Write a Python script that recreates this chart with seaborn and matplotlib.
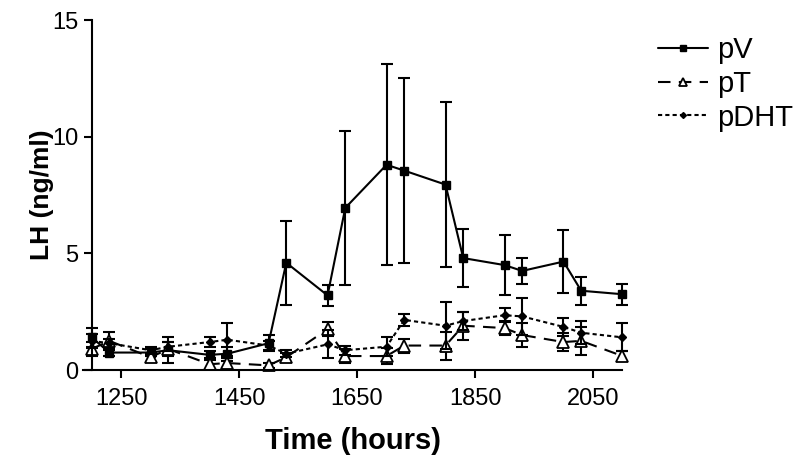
import matplotlib
matplotlib.use("Agg")
import matplotlib.pyplot as plt
import seaborn as sns

# --- Data ---
times = [1200, 1230, 1300, 1330, 1400, 1430, 1500, 1530, 1600, 1630,
         1700, 1730, 1800, 1830, 1900, 1930, 2000, 2030, 2100]

pv = [1.4, 0.75, 0.75, 0.85, 0.65, 0.7, 1.15, 4.6, 3.2, 6.95,
      8.8, 8.55, 7.95, 4.8, 4.5, 4.25, 4.65, 3.4, 3.25]
pv_err = [0.4, 0.15, 0.15, 0.55, 0.15, 0.3, 0.35, 1.8, 0.45, 3.3,
          4.3, 3.95, 3.55, 1.25, 1.3, 0.55, 1.35, 0.6, 0.45]

pt = [0.9, 1.25, 0.55, 0.9, 0.25, 0.3, 0.2, 0.55, 1.75, 0.6,
      0.6, 1.05, 1.05, 1.9, 1.8, 1.5, 1.2, 1.25, 0.6]
pt_err = [0.3, 0.4, 0.2, 0.3, 0.2, 0.2, 0.1, 0.2, 0.3, 0.3,
          0.35, 0.3, 0.6, 0.6, 0.3, 0.5, 0.4, 0.6, 0.2]

pdht = [1.25, 1.15, 0.85, 1.0, 1.2, 1.3, 1.05, 0.7, 1.1, 0.85,
        1.0, 2.15, 1.9, 2.1, 2.35, 2.3, 1.85, 1.6, 1.4]
pdht_err = [0.3, 0.2, 0.15, 0.2, 0.2, 0.7, 0.2, 0.15, 0.6, 0.2,
            0.4, 0.25, 1.0, 0.4, 0.3, 0.8, 0.4, 0.5, 0.6]

x_ticks = [1250, 1450, 1650, 1850, 2050]
y_ticks = [0, 5, 10, 15]

sns.set_theme(style="ticks")
plt.rcParams["font.family"] = ["Liberation Sans", "DejaVu Sans"]
plt.rcParams["text.color"] = "black"
plt.rcParams["axes.labelcolor"] = "black"

fig = plt.figure(figsize=(7.96, 4.69), dpi=100)
ax = fig.add_axes([0.104, 0.211, 0.678, 0.746])

series = [
    ("pV", pv, pv_err, dict(marker="s", markersize=6, linestyle="-")),
    ("pT", pt, pt_err, dict(marker="^", markersize=8, markerfacecolor="white",
                            markeredgewidth=1.3, linestyle=(0, (6, 4)))),
    ("pDHT", pdht, pdht_err, dict(marker="D", markersize=4,
                                  linestyle=(0, (2, 1.5)))),
]

for name, vals, errs, style in series:
    # error bars first, then the line + markers on top
    ax.errorbar(times, vals, yerr=errs, fmt="none", ecolor="black",
                elinewidth=1.5, capsize=4, capthick=1.5, clip_on=False)
    ax.plot(times, vals, color="black", linewidth=1.5, label=name,
            clip_on=False, **style)

ax.set_xlim(1185, 2100)
ax.set_ylim(0, 15)
ax.set_xticks(x_ticks)
ax.set_yticks(y_ticks)

# Prism-like axes: y axis sits at the first sample time
sns.despine(ax=ax)
ax.spines["left"].set_position(("data", 1200))
for side in ("left", "bottom"):
    ax.spines[side].set_linewidth(1.5)
    ax.spines[side].set_color("black")
ax.tick_params(axis="both", direction="out", length=6, width=1.5,
               colors="black", labelsize=17)
ax.tick_params(axis="x", pad=7)

ax.set_xlabel("Time (hours)", fontsize=21, fontweight="bold", labelpad=12)
ax.set_ylabel("LH (ng/ml)", fontsize=19, fontweight="bold", labelpad=-1)

# legend handles: small markers, no error bars
handles, labels = ax.get_legend_handles_labels()
leg = ax.legend(handles, labels, loc="upper left",
                bbox_to_anchor=(1.018, 1.03), frameon=False,
                fontsize=21, handlelength=1.7, labelspacing=0.2,
                handletextpad=0.3, markerscale=0.75)

fig.savefig("out.png", dpi=100)
plt.close(fig)
